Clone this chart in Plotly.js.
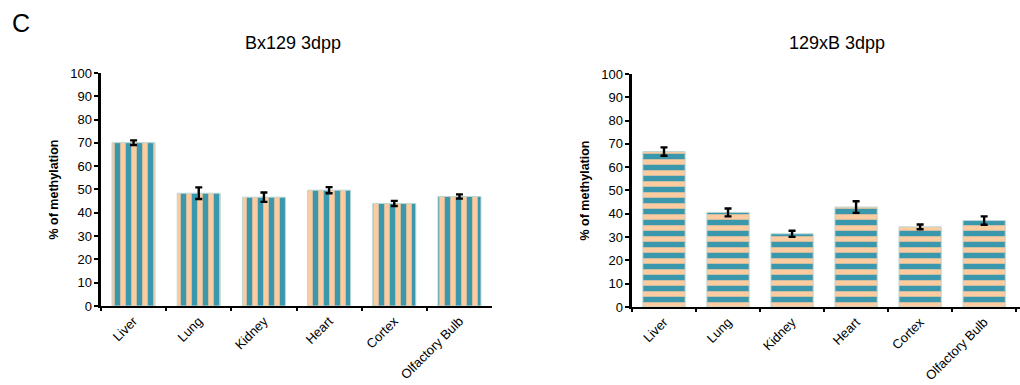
<!DOCTYPE html>
<html><head><meta charset="utf-8">
<script src="https://cdn.plot.ly/plotly-3.0.1.min.js"></script>
<style>html,body{margin:0;padding:0;background:#fff}#chart{width:1020px;height:385px}</style>
</head><body><div id="chart"></div>
<script>
const categories = ["Liver", "Lung", "Kidney", "Heart", "Cortex", "Olfactory Bulb"];
const bx129Values = [70.1, 48.4, 46.7, 49.7, 44.0, 47.0];
const bx129Errors = [1.0, 2.5, 2.0, 1.3, 1.1, 0.9];
const x129BValues = [66.7, 40.6, 31.4, 42.9, 34.4, 37.1];
const x129BErrors = [1.8, 1.7, 1.3, 2.5, 1.0, 1.8];
const yTicks = [0, 10, 20, 30, 40, 50, 60, 70, 80, 90, 100];

const TEAL = '#3B97AC', PEACH = '#FCCB9F', EDGE = '#BCD6D6';
const FONT = 'Liberation Sans, Arial, Helvetica, sans-serif';

function barTrace(vals, errs, shape, xa, ya) {
  return {
    type: 'bar', x: categories, y: vals, xaxis: xa, yaxis: ya,
    width: 0.66,
    marker: {
      color: PEACH,
      line: {color: EDGE, width: 1},
      pattern: {shape: shape, fgcolor: TEAL, bgcolor: PEACH, size: 11, solidity: 0.5, fillmode: 'replace'}
    },
    error_y: {type: 'data', array: errs, visible: true, color: '#000', thickness: 2.4, width: 3.5},
    hoverinfo: 'skip', showlegend: false
  };
}

const xCommon = {
  type: 'category', tickangle: -45, showline: true, linecolor: '#000', linewidth: 2.5,
  ticks: 'outside', ticklen: 3, tickwidth: 2, tickcolor: '#000', tickson: 'boundaries',
  showgrid: false, zeroline: false, tickfont: {family: FONT, size: 13, color: '#000'}, fixedrange: true
};
const yCommon = {
  range: [0, 100], tickvals: yTicks, ticktext: yTicks.map(String),
  showline: true, linecolor: '#000', linewidth: 2.5, ticks: 'outside', ticklen: 4, tickwidth: 2, tickcolor: '#000',
  showgrid: false, zeroline: false, tickfont: {family: FONT, size: 13, color: '#000'},
  title: {text: '<b>% of methylation</b>', font: {family: FONT, size: 12.5, color: '#000'}, standoff: 9},
  fixedrange: true
};

const data = [
  barTrace(bx129Values, bx129Errors, '|', 'x', 'y'),
  barTrace(x129BValues, x129BErrors, '-', 'x2', 'y2')
];

const layout = {
  width: 1020, height: 385, margin: {l: 0, r: 0, t: 0, b: 0},
  paper_bgcolor: '#fff', plot_bgcolor: 'rgba(0,0,0,0)',
  bargap: 0.34,
  xaxis: Object.assign({}, xCommon, {domain: [0.099, 0.4824], range: [-0.5, 5.5], anchor: 'y'}),
  yaxis: Object.assign({}, yCommon, {domain: [0.2052, 0.8104], anchor: 'x'}),
  xaxis2: Object.assign({}, xCommon, {domain: [0.6196, 1.0], range: [-0.5, 5.56], anchor: 'y2'}),
  yaxis2: Object.assign({}, yCommon, {domain: [0.2026, 0.8078], anchor: 'x2'}),
  annotations: [
    {text: 'C', xref: 'paper', yref: 'paper', x: 10/1020, y: 1 - 23/385, showarrow: false,
     font: {family: FONT, size: 25, color: '#000'}, xanchor: 'left', yanchor: 'middle'},
    {text: 'Bx129 3dpp', xref: 'paper', yref: 'paper', x: 0.2873, y: 1 - 43/385, showarrow: false,
     font: {family: FONT, size: 18, color: '#000'}, xanchor: 'center', yanchor: 'middle'},
    {text: '129xB 3dpp', xref: 'paper', yref: 'paper', x: 0.8206, y: 1 - 43/385, showarrow: false,
     font: {family: FONT, size: 18, color: '#000'}, xanchor: 'center', yanchor: 'middle'}
  ]
};

Plotly.newPlot('chart', data, layout, {displayModeBar: false, staticPlot: true});
</script>
</body></html>
